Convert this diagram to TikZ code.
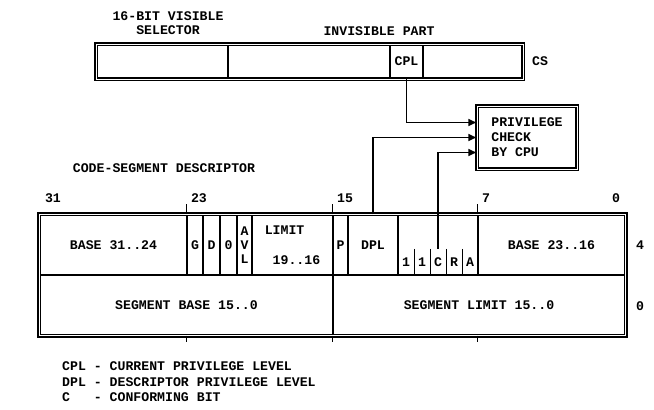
\documentclass[tikz,border=0pt]{standalone}
\usepackage{fontspec}
\setmonofont{Liberation Mono}
\usepackage{tikz}
\usetikzlibrary{arrows.meta, positioning, calc, fit}
\newcommand{\dfont}{\ttfamily\bfseries\fontsize{13.2}{15}\selectfont}
\tikzset{
  cell/.style={
    draw, line width=1.4pt, minimum height=60, inner sep=0pt,
    font=\dfont, align=center
  },
  regcell/.style={
    draw, line width=2pt, minimum height=33, inner sep=0pt, font=\dfont
  },
  bitcell/.style={
    minimum width=16, minimum height=26, inner sep=0pt, font=\dfont
  },
  frame/.style={
    draw, double, double distance=1pt, line width=1.5pt, inner sep=0pt
  },
  arr/.style={-{Triangle[length=8pt,width=7pt]}, line width=1.6pt},
  tick/.style={line width=1.4pt},
  lbl/.style={font=\dfont, inner sep=0pt},
}

\begin{document}
\begin{tikzpicture}[x=1pt, y=-1pt]
  \useasboundingbox (0,0) rectangle (654,410);

  % CS register
  \node[regcell, minimum width=131] (sel) at (162.5,61.5) {};
  \node[regcell, minimum width=162] (inv) at (309,61.5) {};
  \node[regcell, minimum width=33] (cpl) at (406.5,61.5) {CPL};
  \node[regcell, minimum width=99] (rest) at (472.5,61.5) {};
  \node[frame, fit=(sel)(rest)] (cs) {};
  \node[lbl, align=center, font=\dfont\fontsize{13.2}{14.5}\selectfont] (vislbl) at (168,23) {16-BIT VISIBLE\\SELECTOR};
  \node[lbl] (invlbl) at (379,31) {INVISIBLE PART};
  \node[lbl] (cslbl) at (540,61.5) {CS};

  % Privilege check
  \node[frame, minimum width=100, minimum height=63, font=\dfont, align=left] (chk) at (527,137.5)
    {PRIVILEGE\\CHECK\\BY CPU};

  % Descriptor, top row
  \node[lbl] (desclbl) at (164,168) {CODE-SEGMENT DESCRIPTOR};
  \node[cell, minimum width=147] (b3124) at (113.5,245) {BASE 31..24};
  \node[cell, minimum width=16] (g) at (195,245) {G};
  \node[cell, minimum width=17] (d) at (211.5,245) {D};
  \node[cell, minimum width=17] (z) at (228.5,245) {0};
  \node[cell, minimum width=15, font=\dfont\fontsize{13.2}{14}\selectfont] (avl) at (244.5,245) {A\\V\\L};
  \node[cell, minimum width=81, align=left] (lim) at (292.5,245) {LIMIT\\[15pt]\ 19..16};
  \node[cell, minimum width=15] (p) at (340.5,245) {P};
  \node[cell, minimum width=50] (dpl) at (373,245) {DPL};
  \node[cell, minimum width=80] (type) at (438,245) {};
  \node[cell, minimum width=147] (b2316) at (551.5,245) {BASE 23..16};

  % type bits
  \node[bitcell] (t1) at (406,262) {1};
  \node[bitcell] (t2) at (422,262) {1};
  \node[bitcell] (tc) at (438,262) {C};
  \node[bitcell] (tr) at (454,262) {R};
  \node[bitcell] (ta) at (470,262) {A};
  \foreach \b in {t1,t2,tc,tr}
    \draw[line width=1.2pt] (\b.north east) -- (\b.south east);

  % Descriptor, bottom row
  \node[cell, minimum width=293] (sbase) at (186.5,305) {SEGMENT BASE 15..0};
  \node[cell, minimum width=292] (slim) at (479,305) {SEGMENT LIMIT 15..0};
  \node[frame, fit=(b3124)(slim)] (desc) {};

  % bit positions
  \foreach \c in {g,p,b2316} {
    \draw[tick] (\c.north west) -- ++(0,-10);
    \draw[tick] (sbase.south -| \c.west) -- ++(0,6);
  }
  \node[lbl] (n31) at (53,198) {31};
  \node[lbl] (n23) at (199,198) {23};
  \node[lbl] (n15) at (345,198) {15};
  \node[lbl] (n7) at (486,198) {7};
  \node[lbl] (n0) at (616,198) {0};
  \node[lbl] (w4) at (640,245) {4};
  \node[lbl] (w0) at (640,306) {0};

  \draw[arr] (cpl.south) |- ([yshift=15]chk.west);
  \draw[arr] (dpl.north) |- (chk.west);
  \draw[arr] (tc.north) |- ([yshift=-15]chk.west);

  % Legend
  \node[lbl, anchor=north west, align=left, font=\dfont\fontsize{13.2}{15.5}\selectfont] (legend) at (62,361.5)
    {CPL - CURRENT PRIVILEGE LEVEL\\DPL - DESCRIPTOR PRIVILEGE LEVEL\\C\phantom{PL} - CONFORMING BIT};
\end{tikzpicture}
\end{document}
